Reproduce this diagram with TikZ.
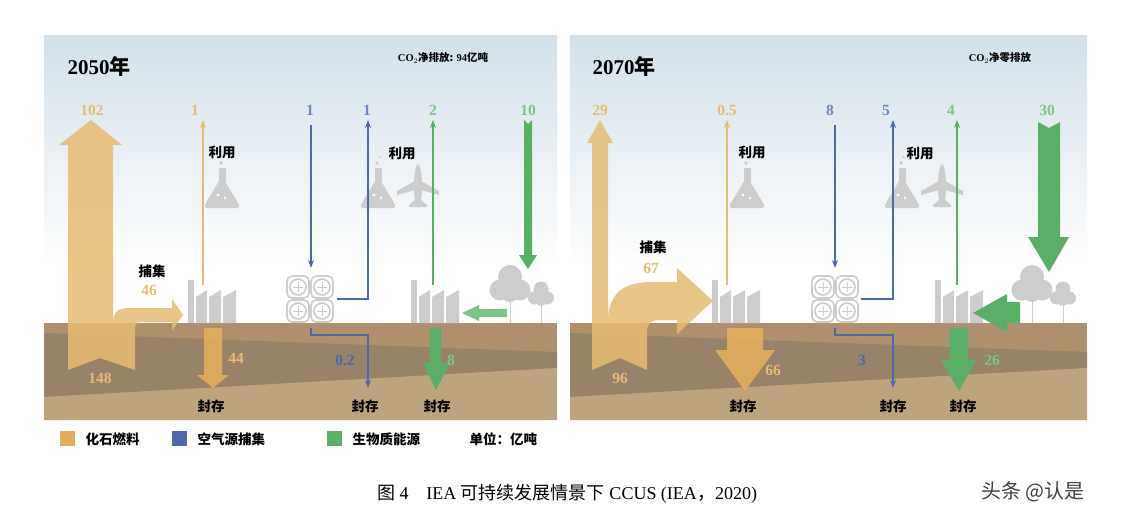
\documentclass[tikz,border=0pt]{standalone}
\usepackage{fontspec}
\setmainfont{Liberation Serif}
\newfontfamily\cjk{Noto Sans CJK SC}
\usetikzlibrary{arrows.meta}
\definecolor{sky}{HTML}{D3E0E9}
\definecolor{soilA}{HTML}{B0906A}
\definecolor{soilB}{HTML}{978368}
\definecolor{soilC}{HTML}{BCA47C}
\definecolor{fossil}{HTML}{E6BC72}
\definecolor{fossilT}{HTML}{E2AE5C}
\definecolor{dac}{HTML}{4C69A9}
\definecolor{bio}{HTML}{59B064}
\definecolor{bioL}{HTML}{7CC48A}
\definecolor{icon}{HTML}{CDCDCD}
\tikzset{
 num/.style={font=\bfseries\fontsize{15.5}{15.5}\selectfont},
 lab/.style={font=\cjk\bfseries\fontsize{13.5}{13.5}\selectfont, text=black},
 thin/.style={line width=1.5pt,-{Stealth[length=8pt,width=6pt]}},
 pics/factory/.style={code={
  \fill[icon] (0,-43) rectangle (6,0);
  \fill[icon] (8,0)--(8,-26)--(19,-33)--(19,0)--cycle;
  \fill[icon] (21,0)--(21,-26)--(33,-33)--(33,0)--cycle;
  \fill[icon] (35,0)--(35,-26)--(48,-33)--(48,0)--cycle;}},
 pics/dac/.style={code={
  \foreach \dx in {0,24}{\foreach \dy in {0,24}{
   \begin{scope}[shift={(\dx,\dy)}]
   \draw[icon,line width=1.6pt,rounded corners=5pt] (0,0) rectangle (22,22);
   \draw[icon,line width=1.6pt] (11,11) circle (8);
   \draw[icon,line width=1pt] (6,11)--(16,11) (11,6)--(11,16);
   \end{scope}}}}},
 pics/flask/.style={code={
  \fill[icon] (-3.5,-24) rectangle (3.5,-10);
  \fill[icon] (-3.5,-10)--(-16,11)--(16,11)--(3.5,-10)--cycle;
  \fill[icon,rounded corners=1.5pt] (-17,11) rectangle (17,16);
  \fill[icon] (-1,-29) circle (1.8) (1.5,-35) circle (1.1);
  \fill[white] (-4,3) circle (1.6) (3,6) circle (1.3);}},
 pics/plane/.style={code={
  \fill[icon] (0,0) ellipse (4 and 22);
  \fill[icon] (-3,-5)--(-21,5)--(-21,9)--(-3,4)--(3,4)--(21,9)--(21,5)--(3,-5)--cycle;
  \fill[icon] (-2,13)--(-9,19)--(-9,21)--(9,21)--(9,19)--(2,13)--cycle;}},
 pics/tree/.style={code={
  \draw[icon,line width=1pt] (14,0)--(14,-30) (45,0)--(45,-25);
  \fill[icon] (14,-46) circle (12) (4,-33) circle (10.5) (24,-33) circle (10.5) (14,-30) circle (9);
  \fill[icon] (45,-34) circle (7.5) (38.5,-25) circle (6.5) (51.5,-25) circle (6.5) (45,-22) circle (5);}},
}
\begin{document}
\begin{tikzpicture}[x=1pt,y=-1pt]
\useasboundingbox (0,0) rectangle (1122,522);
\fill[white] (0,0) rectangle (1122,522);
\foreach \xa/\xb in {44/557,570/1087}{
 \shade[top color=sky,bottom color=white] (\xa,35) rectangle (\xb,270);
 \fill[soilA] (\xa,323) rectangle (\xb,420);
}
\fill[soilB] (44,333)--(557,352)--(557,368)--(44,397)--cycle;
\fill[soilC] (44,397)--(557,368)--(557,420)--(44,420)--cycle;
\fill[soilB] (570,333)--(1087,352)--(1087,368)--(570,397)--cycle;
\fill[soilC] (570,397)--(1087,368)--(1087,420)--(570,420)--cycle;

% ===== Panel 2050 =====
\node[anchor=west,font=\bfseries\fontsize{21}{21}\selectfont] (t1) at (64,66) {2050\cjk 年};
\node[font=\bfseries\fontsize{10.5}{10.5}\selectfont] (n1) at (443,58) {CO$_2$\cjk 净排放: \rmfamily 94\cjk 亿吨};
\pic at (188,323) {factory};
\pic at (411,323) {factory};
\pic at (287,276) {dac};
\pic at (222,192) {flask};
\pic at (378,192) {flask};
\pic at (418,186) {plane};
\pic at (496,323) {tree};
\fill[fossil,opacity=0.85] (91,120)--(122,145)--(113,145)--(113,325) .. controls (113,311) and (118,308) .. (130,308)
 --(172,308)--(172,299)--(183,315)--(172,331)--(172,322)--(138,322)--(135,326)--(135,370)--(100,358)--(68,370)--(68,145)--(59,145)--cycle;
\node[num,text=fossil] (a1) at (92,110) {102};
\node[num,text=fossil] (a2) at (100,378) {148};
\node[lab] (c1) at (152,271) {捕集};
\node[num,text=fossil] (c2) at (149,290) {46};
\draw[thin,fossil] (203,285)--(203,120);
\node[num,text=fossil] at (195,110) {1};
\node[lab] at (222,152) {利用};
\fill[fossilT,opacity=0.9] (204,328)--(222,328)--(222,375)--(229,375)--(213,388)--(197,375)--(204,375)--cycle;
\node[num,text=fossil] at (236,358) {44};
\node[lab] at (211,406) {封存};
\draw[thin,dac] (311,125)--(311,268);
\node[num,text=dac!80] at (310,110) {1};
\draw[thin,dac] (337,299)--(368,299)--(368,120);
\node[num,text=dac!80] at (367,110) {1};
\draw[thin,dac] (311,328)--(311,335)--(368,335)--(368,388);
\node[num,text=dac] at (345,360) {0.2};
\node[lab] at (365,406) {封存};
\node[lab] at (402,153) {利用};
\draw[thin,bio] (433,285)--(433,120);
\node[num,text=bioL] at (433,110) {2};
\fill[bio] (430,328)--(441,328)--(441,363)--(450,363)--(436,390)--(423,363)--(430,363)--cycle;
\node[num,text=bioL] at (451,360) {8};
\node[lab] at (437,406) {封存};
\fill[bio] (524,120)--(528,124)--(532,120)--(532,255)--(537,255)--(528,269)--(519,255)--(524,255)--cycle;
\node[num,text=bioL] at (528,110) {10};
\fill[bioL] (507,309)--(479,309)--(479,305)--(462,313)--(479,321)--(479,317)--(507,317)--cycle;

% ===== Panel 2070 =====
\node[anchor=west,font=\bfseries\fontsize{21}{21}\selectfont] (t2) at (589,66) {2070\cjk 年};
\node[font=\bfseries\fontsize{10.5}{10.5}\selectfont] (n2) at (1000,58) {CO$_2$\cjk 净零排放};
\pic at (712,323) {factory};
\pic at (935,323) {factory};
\pic at (812,276) {dac};
\pic at (747,192) {flask};
\pic at (902,192) {flask};
\pic at (942,186) {plane};
\pic at (1018,323) {tree};
\fill[fossil,opacity=0.85] (600,120)--(613,143)--(608,143)--(608,322) .. controls (608,292) and (625,282) .. (652,282)
 --(677,282)--(677,268)--(713,301)--(677,334)--(677,320)--(660,320) .. controls (651,320) and (647,323) .. (647,332)
 --(647,370)--(620,358)--(592,370)--(592,143)--(587,143)--cycle;
\node[num,text=fossil] at (600,110) {29};
\node[num,text=fossil] at (620,378) {96};
\node[lab] at (653,247) {捕集};
\node[num,text=fossil] at (651,268) {67};
\draw[thin,fossil] (727,285)--(727,120);
\node[num,text=fossil] at (727,110) {0.5};
\node[lab] at (752,152) {利用};
\fill[fossilT,opacity=0.9] (727,328)--(763,328)--(763,350)--(775,350)--(745,391)--(715,350)--(727,350)--cycle;
\node[num,text=fossil] at (773,370) {66};
\node[lab] at (743,406) {封存};
\draw[thin,dac] (835,125)--(835,268);
\node[num,text=dac!80] at (830,110) {8};
\draw[thin,dac] (861,299)--(893,299)--(893,120);
\node[num,text=dac!80] at (886,110) {5};
\draw[thin,dac] (835,328)--(835,335)--(893,335)--(893,388);
\node[num,text=dac] at (862,360) {3};
\node[lab] at (893,406) {封存};
\node[lab] at (920,153) {利用};
\draw[thin,bio] (957,285)--(957,120);
\node[num,text=bioL] at (951,110) {4};
\fill[bio] (950,328)--(968,328)--(968,360)--(976,360)--(959,391)--(941,360)--(950,360)--cycle;
\node[num,text=bioL] at (992,360) {26};
\node[lab] at (963,406) {封存};
\fill[bio] (1038,122)--(1049,128)--(1060,122)--(1060,237)--(1069,237)--(1049,272)--(1028,237)--(1038,237)--cycle;
\node[num,text=bioL] at (1047,110) {30};
\fill[bio] (1020,302)--(1007,302)--(1007,294)--(973,313)--(1007,332)--(1007,323)--(1020,323)--cycle;

% ===== Legend =====
\fill[fossilT] (60,431) rectangle (75,446);
\node[lab,anchor=west] at (82,439) {化石燃料};
\fill[dac] (172,431) rectangle (187,446);
\node[lab,anchor=west] at (194,439) {空气源捕集};
\fill[bio] (327,431) rectangle (342,446);
\node[lab,anchor=west] at (349,439) {生物质能源};
\node[lab,anchor=west] at (466,439) {单位：亿吨};
\node[font=\fontsize{18}{18}\selectfont] at (567,494) {\cjk 图\rmfamily\ 4\quad IEA \cjk 可持续发展情景下\rmfamily\ CCUS (IEA\cjk ，\rmfamily 2020)};
\node[font=\cjk\fontsize{20}{20}\selectfont,text=black!75] at (1033,492) {头条 @认是};
\end{tikzpicture}
\end{document}
